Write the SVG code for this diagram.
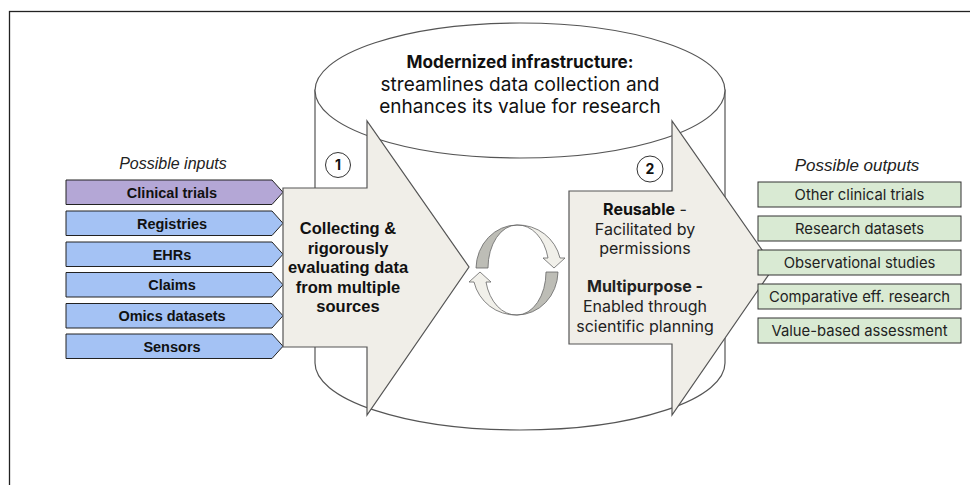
<svg xmlns="http://www.w3.org/2000/svg" width="970" height="485" viewBox="0 0 970 485">
<style>
.frame{fill:none;stroke:#222;stroke-width:1.3}
.cyl{fill:#fff;stroke:#555;stroke-width:1.2}
.big{fill:#f0eee8;stroke:#555;stroke-width:1.2}
.inp{stroke:#222;stroke-width:1}
.purple{fill:#b4a7d6}
.blue{fill:#a4c2f4}
.out{fill:#d9ead3;stroke:#333;stroke-width:1}
.ilab{font-family:"Liberation Sans",Arial,sans-serif;font-weight:bold;font-size:14.5px;fill:#111;text-anchor:middle}
.olab{font-family:Inter,"Noto Sans",sans-serif;font-size:14.8px;fill:#222;text-anchor:middle}
.hdr{font-family:"Liberation Sans",Arial,sans-serif;font-style:italic;font-size:16px;fill:#222;text-anchor:middle}
.hdr2{font-size:17px}
.a1{font-family:"Liberation Sans",Arial,sans-serif;font-weight:bold;font-size:16.5px;fill:#111;text-anchor:middle}
.a2{font-family:Inter,"Noto Sans",sans-serif;font-size:16px;fill:#222;text-anchor:middle}
.ttl{font-family:Inter,"Noto Sans",sans-serif;font-size:19px;fill:#111;text-anchor:middle}
.ttlb{font-size:17.2px;font-weight:bold}
.num{fill:#fff;stroke:#333;stroke-width:1}
.numt{font-family:Inter,"Noto Sans",sans-serif;font-weight:bold;font-size:14px;fill:#111;text-anchor:middle}
.dk{fill:#bdbdb6;stroke:#666;stroke-width:0.8}
.lt{fill:#f1f0ea;stroke:#666;stroke-width:0.8}
</style>
<rect class="frame" x="9.5" y="11.5" width="1000" height="500"/>
<g id="cylinder">
<path class="cyl" d="M315,90 L315,363 A205,67 0 0 0 725,363 L725,90 Z"/>
<ellipse class="cyl" cx="520" cy="90.5" rx="205" ry="67.5"/>
<text class="ttl ttlb" x="520" y="68">Modernized infrastructure:</text>
<text class="ttl" x="520" y="91">streamlines data collection and</text>
<text class="ttl" x="520" y="113">enhances its value for research</text>
</g>
<g id="inputs">
<text class="hdr" x="173" y="169">Possible inputs</text>
<g id="in-clinical"><path class="inp purple" d="M66,180 L272,180 L283,192.25 L272,204.5 L66,204.5 Z"/><text class="ilab" x="172" y="197.5">Clinical trials</text></g>
<g id="in-registries"><path class="inp blue" d="M66,211 L272,211 L283,223.25 L272,235.5 L66,235.5 Z"/><text class="ilab" x="172" y="228.5">Registries</text></g>
<g id="in-ehrs"><path class="inp blue" d="M66,242 L272,242 L283,254.25 L272,266.5 L66,266.5 Z"/><text class="ilab" x="172" y="259.5">EHRs</text></g>
<g id="in-claims"><path class="inp blue" d="M66,272.5 L272,272.5 L283,284.75 L272,297 L66,297 Z"/><text class="ilab" x="172" y="290">Claims</text></g>
<g id="in-omics"><path class="inp blue" d="M66,303.5 L272,303.5 L283,315.75 L272,328 L66,328 Z"/><text class="ilab" x="172" y="321">Omics datasets</text></g>
<g id="in-sensors"><path class="inp blue" d="M66,334 L272,334 L283,346.25 L272,358.5 L66,358.5 Z"/><text class="ilab" x="172" y="351.5">Sensors</text></g>
</g>
<g id="step1">
<path class="big" d="M283,188 L367,188 L367,121 L469,267 L367,415 L367,347 L283,347 Z"/>
<text class="a1" x="348" y="234">Collecting &amp;</text>
<text class="a1" x="348" y="253.5">rigorously</text>
<text class="a1" x="348" y="273">evaluating data</text>
<text class="a1" x="348" y="292.5">from multiple</text>
<text class="a1" x="348" y="312">sources</text>
<circle class="num" cx="338" cy="165" r="12.5"/>
<text class="numt" x="338" y="170">1</text>
</g>
<g id="cycle">
<g transform="translate(517,270)">
<path class="dk" d="M-41,-2 A41,44 0 0 1 0,-45 A29,43 0 0 0 -29,-2 Z"/>
<path class="lt" d="M0,-45 A43,43 0 0 1 43,-12 L48,-12 L37,-2 L26,-12 L31,-12 A31,43 0 0 0 0,-45 Z"/>
</g>
<g transform="translate(517,270) rotate(180)">
<path class="dk" d="M-41,-2 A41,44 0 0 1 0,-45 A29,43 0 0 0 -29,-2 Z"/>
<path class="lt" d="M0,-45 A43,43 0 0 1 43,-12 L48,-12 L37,-2 L26,-12 L31,-12 A31,43 0 0 0 0,-45 Z"/>
</g>
</g>
<g id="step2">
<path class="big" d="M569,191 L672,191 L672,121 L774,267 L672,415 L672,344 L569,344 Z"/>
<text class="a2" x="645" y="215"><tspan font-weight="bold" fill="#111">Reusable</tspan> -</text>
<text class="a2" x="645" y="235">Facilitated by</text>
<text class="a2" x="645" y="254">permissions</text>
<text class="a2" x="645" y="292" font-weight="bold" fill="#111">Multipurpose -</text>
<text class="a2" x="645" y="312">Enabled through</text>
<text class="a2" x="645" y="332">scientific planning</text>
<circle class="num" cx="650" cy="169" r="13"/>
<text class="numt" x="650" y="174">2</text>
</g>
<g id="outputs">
<text class="hdr hdr2" x="857" y="171">Possible outputs</text>
<g id="out-trials"><rect class="out" x="758" y="182" width="203" height="25"/><text class="olab" x="859.5" y="199.5">Other clinical trials</text></g>
<g id="out-datasets"><rect class="out" x="758" y="216" width="203" height="25"/><text class="olab" x="859.5" y="233.5">Research datasets</text></g>
<g id="out-obs"><rect class="out" x="758" y="250" width="203" height="25"/><text class="olab" x="859.5" y="267.5">Observational studies</text></g>
<g id="out-cer"><rect class="out" x="758" y="284" width="203" height="25"/><text class="olab" x="859.5" y="301.5">Comparative eff. research</text></g>
<g id="out-value"><rect class="out" x="758" y="318" width="203" height="25"/><text class="olab" x="859.5" y="335.5">Value-based assessment</text></g>
</g>
</svg>
